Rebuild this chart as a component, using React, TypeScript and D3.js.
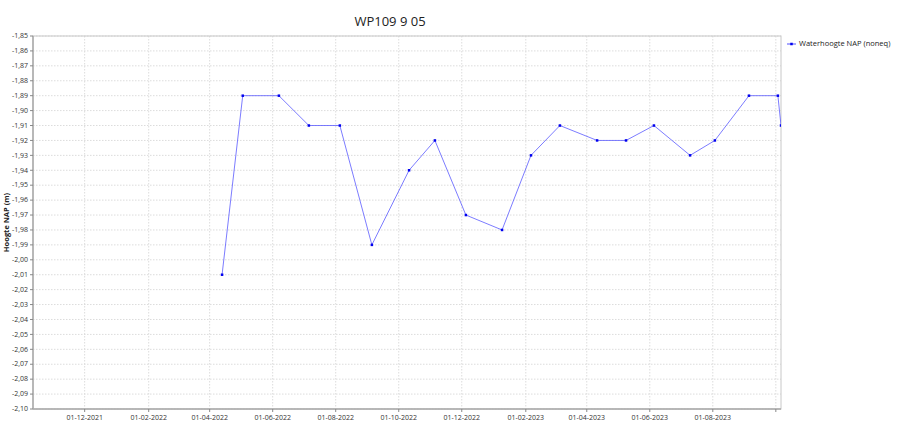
import * as d3 from "d3";

// measurement dates and water levels (m NAP)
const dates = [
    "2022-04-13", "2022-05-03", "2022-06-07", "2022-07-06", "2022-08-05",
    "2022-09-05", "2022-10-11", "2022-11-05", "2022-12-05", "2023-01-09",
    "2023-02-06", "2023-03-06", "2023-04-11", "2023-05-09", "2023-06-05",
    "2023-07-10", "2023-08-03", "2023-09-05", "2023-10-03", "2023-10-06",
];
const levels = [
    -2.01, -1.89, -1.89, -1.91, -1.91,
    -1.99, -1.94, -1.92, -1.97, -1.98,
    -1.93, -1.91, -1.92, -1.92, -1.91,
    -1.93, -1.92, -1.89, -1.89, -1.91,
];

const xDomain = ["2021-10-12", "2023-10-06"];
const xTickDates = [
    "2021-12-01", "2022-02-01", "2022-04-01", "2022-06-01", "2022-08-01", "2022-10-01",
    "2022-12-01", "2023-02-01", "2023-04-01", "2023-06-01", "2023-08-01", "2023-10-01",
];
const yTicks = [
    -1.85, -1.86, -1.87, -1.88, -1.89, -1.90, -1.91, -1.92, -1.93, -1.94, -1.95, -1.96, -1.97,
    -1.98, -1.99, -2.00, -2.01, -2.02, -2.03, -2.04, -2.05, -2.06, -2.07, -2.08, -2.09, -2.10,
];

const title = "WP109 9 05";
const yLabel = "Hoogte NAP (m)";
const seriesName = "Waterhoogte NAP (noneq)";

const width = 903;
const height = 430;
const marginLeft = 33;
const marginRight = 122;
const marginTop = 36;
const marginBottom = 21;

const parse = d3.timeParse("%Y-%m-%d");
const fmtDate = d3.timeFormat("%d-%m-%Y");
const fmtNum = (v: number) => v.toFixed(2).replace(".", ",");

export default function App() {
    const innerWidth = width - marginLeft - marginRight;
    const innerHeight = height - marginTop - marginBottom;

    const xScale = d3.scaleTime()
        .domain(xDomain.map(d => parse(d) as Date))
        .range([0, innerWidth]);
    const yScale = d3.scaleLinear()
        .domain([-2.10, -1.85])
        .range([innerHeight, 0]);

    const points = dates.map((d, i) => ({ date: parse(d) as Date, value: levels[i] }));
    const line = d3.line<{ date: Date; value: number }>()
        .x(d => xScale(d.date))
        .y(d => yScale(d.value));

    const font = "'Open Sans', 'DejaVu Sans', sans-serif";
    const tickColor = "#333";

    return (
        <svg width={width} height={height} style={{ position: "absolute", left: 0, top: 0, background: "#fff" }}
             fontFamily={font}>
            <defs>
                <clipPath id="plot-clip">
                    <rect x={0} y={0} width={innerWidth} height={innerHeight} />
                </clipPath>
            </defs>
            <text x={390} y={26} textAnchor="middle" fontSize={13} fill="#222">{title}</text>
            <g transform={`translate(${marginLeft}, ${marginTop})`}>
                {/* grid */}
                {yTicks.map(t => (
                    <line key={"gy" + t} x1={0} x2={innerWidth} y1={yScale(t)} y2={yScale(t)}
                          stroke="#dcdcdc" strokeWidth={1} strokeDasharray="1.5,1.5" />
                ))}
                {xTickDates.map(t => {
                    const x = xScale(parse(t) as Date);
                    return <line key={"gx" + t} x1={x} x2={x} y1={0} y2={innerHeight}
                                 stroke="#dcdcdc" strokeWidth={1} strokeDasharray="1.5,1.5" />;
                })}
                <rect x={0} y={0} width={innerWidth} height={innerHeight} fill="none" stroke="#c8c8c8" />
                {/* axes */}
                <line x1={0} x2={0} y1={0} y2={innerHeight} stroke="#aaa" strokeWidth={1.5} />
                <line x1={0} x2={innerWidth} y1={innerHeight} y2={innerHeight} stroke="#aaa" strokeWidth={1.5} />
                {yTicks.map(t => (
                    <g key={"ty" + t} transform={`translate(0, ${yScale(t)})`}>
                        <line x1={-3} x2={0} stroke="#888" />
                        <text x={-5} dy="0.32em" textAnchor="end" fontSize={7} fill={tickColor}>{fmtNum(t)}</text>
                    </g>
                ))}
                {xTickDates.map(t => {
                    const x = xScale(parse(t) as Date);
                    return (
                        <g key={"tx" + t} transform={`translate(${x}, ${innerHeight})`}>
                            <line y1={0} y2={3} stroke="#888" />
                            {x + 20 < innerWidth &&
                                <text y={11} textAnchor="middle" fontSize={7} fill={tickColor}>
                                    {fmtDate(parse(t) as Date)}
                                </text>}
                        </g>
                    );
                })}
                {/* series */}
                <g clipPath="url(#plot-clip)">
                    <path d={line(points) || ""} fill="none" stroke="#5050ff" strokeOpacity={0.75} strokeWidth={1} />
                    {points.map((p, i) => (
                        <rect key={i} x={xScale(p.date) - 1.25} y={yScale(p.value) - 1.25} width={2.5} height={2.5}
                              fill="#0000ee" />
                    ))}
                </g>
            </g>
            <text transform={`translate(9, ${marginTop + innerHeight / 2}) rotate(-90)`} textAnchor="middle"
                  fontSize={7.5} fontWeight="bold" fill="#222">{yLabel}</text>
            {/* legend */}
            <g transform="translate(787, 44)">
                <line x1={0} x2={9} y1={0} y2={0} stroke="#5050ff" strokeWidth={1} />
                <rect x={3.25} y={-1.25} width={2.5} height={2.5} fill="#0000ee" />
                <text x={12} dy="0.32em" fontSize={7.5} fill="#222">{seriesName}</text>
            </g>
        </svg>
    );
}
